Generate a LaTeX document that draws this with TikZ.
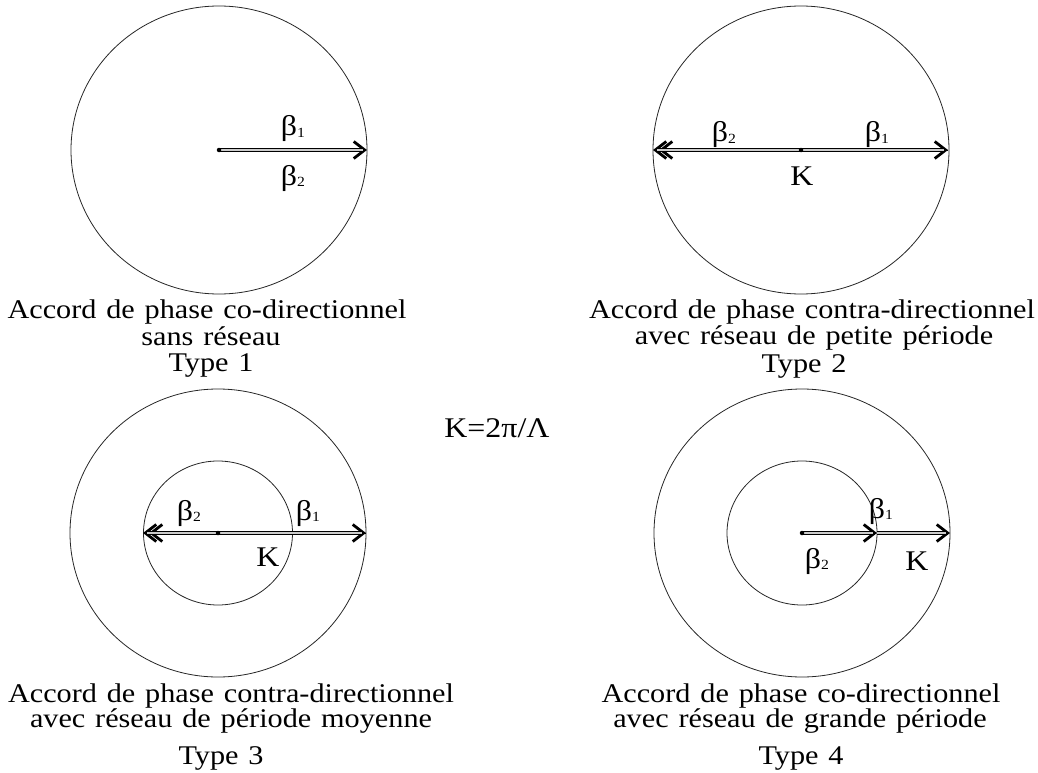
\documentclass[tikz,border=0pt]{standalone}
\usepackage{fontspec}
\setmainfont{Liberation Serif}[FakeStretch=1.12,WordSpace=1.3]
\usetikzlibrary{arrows.meta}
\newcommand{\bsub}[1]{β\raisebox{-1.5pt}{\fontsize{14}{14}\selectfont #1}}
\begin{document}
\begin{tikzpicture}[x=1pt,y=-1pt,
  circ/.style={draw=black!85, line width=0.8pt},
  tipline/.style={line width=0.3pt, -{Straight Barb[length=11pt,width=17pt,line width=2.8pt]}},
  vline/.style={draw=black, line width=0.9pt, double=gray!40, double distance=1.6pt, shorten >=4pt},
  lbl/.style={font=\fontsize{28.5}{28.5}\selectfont, inner sep=0pt},
  captxt/.style={font=\fontsize{27}{29}\selectfont, inner sep=0pt, anchor=base},
  dot/.style={circle, fill=black, inner sep=0pt, minimum size=4.5pt}]
\useasboundingbox (0,0) rectangle (1038,773);

% circles
\draw[circ] (219,150) ellipse [x radius=148, y radius=144];
\draw[circ] (801,150) ellipse [x radius=148, y radius=144];
\draw[circ] (218,533) ellipse [x radius=148, y radius=144];
\draw[circ] (218,533) ellipse [x radius=74.5, y radius=72];
\draw[circ] (802,533) ellipse [x radius=148, y radius=144];
\draw[circ] (802,533) ellipse [x radius=75, y radius=72];

% centres and end points
\coordinate (o1) at (219,150);
\coordinate (r1) at (367,150);
\coordinate (o2) at (801,150);
\coordinate (r2) at (948,150);
\coordinate (l2) at (653,150);
\coordinate (o3) at (218,533);
\coordinate (l3) at (143,533);
\coordinate (r3) at (366,533);
\coordinate (o4) at (802,533);
\coordinate (m4) at (877,533);
\coordinate (r4) at (950,533);

% vectors
\draw[tipline] (o1) -- (r1);
\draw[vline] (o1) -- (r1);

\draw[tipline] (o2) -- (r2);
\draw[tipline] (o2) -- (l2);
\draw[tipline, shorten >=6pt] (r2) -- (l2);
\draw[vline] (o2) -- (r2);
\draw[vline] (o2) -- (l2);

\draw[tipline] (o3) -- (r3);
\draw[tipline] (o3) -- (l3);
\draw[tipline, shorten >=6pt] (r3) -- (l3);
\draw[vline] (o3) -- (r3);
\draw[vline] (o3) -- (l3);

\draw[tipline] (o4) -- (m4);
\draw[tipline] (m4) -- (r4);
\draw[vline] (o4) -- (m4);
\draw[vline] (m4) -- (r4);

% centre dots
\node[dot] (d1) at (o1) {};
\node[dot] (d2) at (o2) {};
\node[dot] (d3) at (o3) {};
\node[dot] (d4) at (o4) {};

% labels
\node[lbl] (b11) at (293,129) {\bsub{1}};
\node[lbl] (b12) at (293,178) {\bsub{2}};
\node[lbl] (b22) at (724,135) {\bsub{2}};
\node[lbl] (b21) at (877,135) {\bsub{1}};
\node[lbl] (k2) at (802,176) {K};
\node[lbl] (b32) at (189,513) {\bsub{2}};
\node[lbl] (b31) at (308,513) {\bsub{1}};
\node[lbl] (k3) at (268,557) {K};
\node[lbl] (b41) at (881,511) {\bsub{1}};
\node[lbl] (b42) at (817,561) {\bsub{2}};
\node[lbl] (k4) at (917,561) {K};
\node[lbl] (kdef) at (497,428) {K=2π/Λ};

% captions
\node[captxt] (c1a) at (207,318) {Accord de phase co-directionnel};
\node[captxt] (c1b) at (211,345) {sans réseau};
\node[captxt] (c1c) at (211,371) {Type 1};
\node[captxt] (c2a) at (812,318) {Accord de phase contra-directionnel};
\node[captxt] (c2b) at (814,344) {avec réseau de petite période};
\node[captxt] (c2c) at (804,372) {Type 2};
\node[captxt] (c3a) at (231,702) {Accord de phase contra-directionnel};
\node[captxt] (c3b) at (231,727) {avec réseau de période moyenne};
\node[captxt] (c3c) at (221,764) {Type 3};
\node[captxt] (c4a) at (801,702) {Accord de phase co-directionnel};
\node[captxt] (c4b) at (800,727) {avec réseau de grande période};
\node[captxt] (c4c) at (801,764) {Type 4};
\end{tikzpicture}
\end{document}
